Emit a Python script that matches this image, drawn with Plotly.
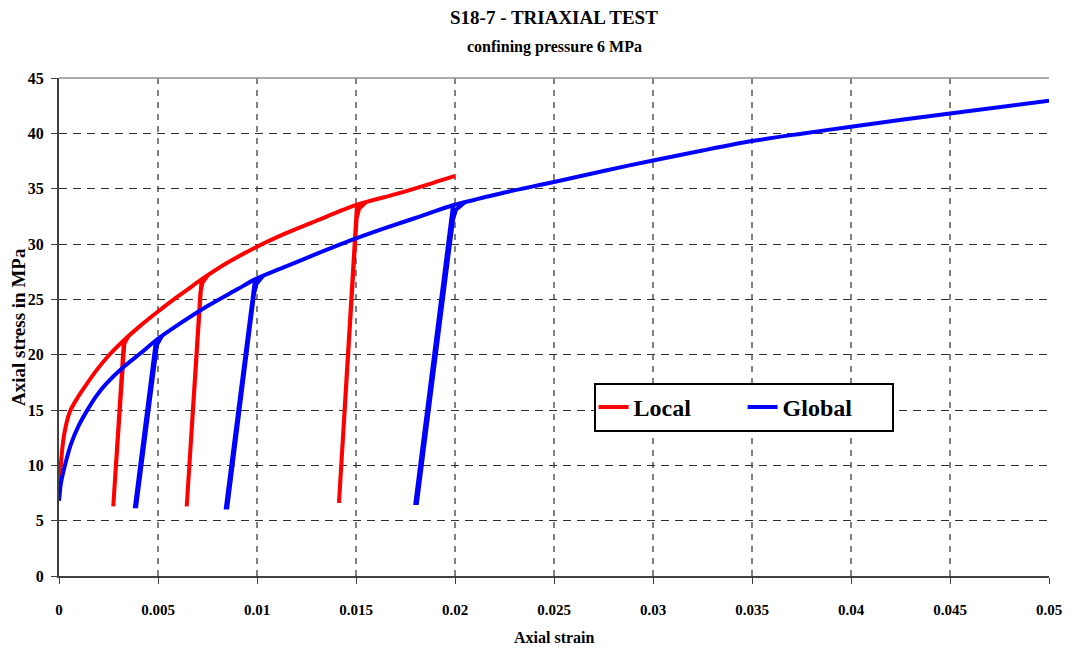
import plotly.graph_objects as go

# ---- Local (strain-gauge) measurement ----
# monotonic loading envelope
local_env_strain = [0, 0.00004, 0.00009, 0.00022, 0.00035, 0.00056, 0.0009, 0.00123, 0.0019,
                    0.0025, 0.00328, 0.0041, 0.005, 0.0058, 0.0065, 0.0072, 0.0085, 0.01,
                    0.0115, 0.013, 0.01505, 0.017, 0.0185, 0.02]
local_env_stress = [6.9, 8.5, 10.0, 12.3, 13.6, 14.9, 16.0, 16.9, 18.6,
                    19.9, 21.3, 22.6, 23.9, 25.0, 25.9, 26.8, 28.3, 29.75,
                    31.0, 32.1, 33.55, 34.5, 35.3, 36.15]
# unload / reload cycles (None separates the three cycles)
local_cyc_strain = [0.00328, 0.00274, 0.00277, 0.00323, 0.0033, 0.0035, None,
                    0.0072, 0.00645, 0.00648, 0.00714, 0.00725, 0.0075, None,
                    0.01505, 0.01414, 0.01418, 0.01503, 0.01516, 0.0155]
local_cyc_stress = [21.3, 6.3, 6.3, 20.3, 21.0, 21.65, None,
                    26.8, 6.3, 6.3, 25.6, 26.5, 27.15, None,
                    33.55, 6.6, 6.6, 32.3, 33.2, 33.77]

# ---- Global (platen-to-platen) measurement ----
global_env_strain = [0, 0.0001, 0.0003, 0.0006, 0.001, 0.0014, 0.0019, 0.0024, 0.0032,
                     0.0041, 0.0049, 0.0061, 0.0075, 0.009, 0.0099, 0.0115, 0.013, 0.015,
                     0.0165, 0.018, 0.0199, 0.021, 0.0225, 0.025, 0.0275, 0.03, 0.0325,
                     0.035, 0.0375, 0.04, 0.045, 0.05]
global_env_stress = [6.8, 8.4, 10.0, 11.9, 13.6, 14.9, 16.3, 17.4, 18.8,
                     20.1, 21.3, 22.8, 24.4, 25.9, 26.8, 28.0, 29.1, 30.5,
                     31.45, 32.35, 33.5, 34.0, 34.65, 35.6, 36.6, 37.55, 38.45,
                     39.3, 39.97, 40.6, 41.8, 42.95]
global_cyc_strain = [0.0049, 0.00384, 0.0039, 0.00484, 0.00495, 0.0052, None,
                     0.0099, 0.00843, 0.0085, 0.00985, 0.00998, 0.0103, None,
                     0.0199, 0.018, 0.01808, 0.0199, 0.02005, 0.0205]
global_cyc_stress = [21.3, 6.3, 6.3, 20.0, 20.9, 21.68, None,
                     26.8, 6.2, 6.2, 25.5, 26.4, 27.1, None,
                     33.5, 6.6, 6.6, 32.2, 33.1, 33.77]

x_ticks = [0, 0.005, 0.01, 0.015, 0.02, 0.025, 0.03, 0.035, 0.04, 0.045, 0.05]
x_tick_labels = ["0", "0.005", "0.01", "0.015", "0.02", "0.025", "0.03", "0.035", "0.04", "0.045", "0.05"]
y_ticks = [0, 5, 10, 15, 20, 25, 30, 35, 40, 45]

SERIF = "Liberation Serif"
RED = "#FF0000"
BLUE = "#0000FF"

fig = go.Figure()
fig.add_trace(go.Scatter(x=local_env_strain, y=local_env_stress, mode="lines", name="Local",
                         legendgroup="local",
                         line=dict(color=RED, width=4, shape="spline", smoothing=0.8)))
fig.add_trace(go.Scatter(x=local_cyc_strain, y=local_cyc_stress, mode="lines", name="Local",
                         legendgroup="local", showlegend=False, connectgaps=False,
                         line=dict(color=RED, width=4)))
fig.add_trace(go.Scatter(x=global_env_strain, y=global_env_stress, mode="lines", name="Global",
                         legendgroup="global",
                         line=dict(color=BLUE, width=4, shape="spline", smoothing=0.8)))
fig.add_trace(go.Scatter(x=global_cyc_strain, y=global_cyc_stress, mode="lines", name="Global",
                         legendgroup="global", showlegend=False, connectgaps=False,
                         line=dict(color=BLUE, width=4)))

fig.update_layout(
    width=1074, height=651,
    margin=dict(l=59, r=25, t=78, b=75),
    paper_bgcolor="white", plot_bgcolor="white",
    showlegend=True,
    legend=dict(orientation="h", x=0.54, y=0.388, xanchor="left", yanchor="top",
                bgcolor="white", bordercolor="black", borderwidth=2,
                font=dict(family=SERIF, size=24, color="black", weight="bold"),
                entrywidth=104, entrywidthmode="pixels"),
    font=dict(family=SERIF, color="black"),
)

fig.update_xaxes(
    range=[0, 0.05], tickvals=x_ticks, ticktext=x_tick_labels,
    showline=True, linecolor="#404040", linewidth=2,
    ticks="outside", ticklen=6, tickcolor="#404040", tickwidth=1,
    showgrid=True, gridcolor="#808080", gridwidth=1.5, griddash="6px,6px",
    zeroline=False, ticklabelstandoff=13,
    tickfont=dict(family=SERIF, size=15, color="black", weight="bold"),
)
fig.update_yaxes(
    range=[0, 45], tickvals=y_ticks,
    showline=True, linecolor="#404040", linewidth=2,
    ticks="outside", ticklen=6, tickcolor="#404040", tickwidth=1,
    showgrid=True, gridcolor="#303030", gridwidth=1, griddash="8px,6px",
    zeroline=False, ticklabelstandoff=4,
    tickfont=dict(family=SERIF, size=16, color="black", weight="bold"),
)

# Top frame line of the plot area
fig.add_shape(type="line", xref="paper", yref="paper", x0=0, x1=1, y0=1, y1=1,
              line=dict(color="#909090", width=1.5))

# Titles and axis labels
fig.add_annotation(text="S18-7 - TRIAXIAL TEST", xref="paper", yref="paper",
                   x=0.5, y=1.1205, xanchor="center", yanchor="middle", showarrow=False,
                   font=dict(family=SERIF, size=19, color="black", weight="bold"))
fig.add_annotation(text="confining pressure 6 MPa", xref="paper", yref="paper",
                   x=0.5, y=1.062, xanchor="center", yanchor="middle", showarrow=False,
                   font=dict(family=SERIF, size=16, color="black", weight="bold"))
fig.add_annotation(text="Axial strain", xref="paper", yref="paper",
                   x=0.5, y=-0.1225, xanchor="center", yanchor="middle", showarrow=False,
                   font=dict(family=SERIF, size=16, color="black", weight="bold"))
fig.add_annotation(text="Axial stress in MPa", xref="paper", yref="paper",
                   x=-0.0414, y=0.5, xanchor="center", yanchor="middle", showarrow=False,
                   textangle=-90,
                   font=dict(family=SERIF, size=19, color="black", weight="bold"))

fig.write_html("out.html")
